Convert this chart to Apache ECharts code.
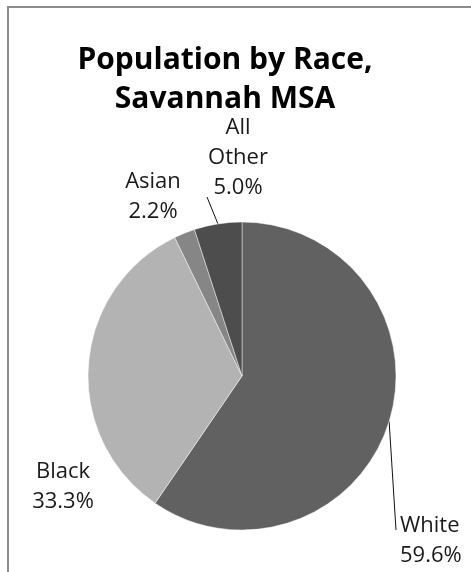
<!DOCTYPE html>
<html>
<head>
<meta charset="utf-8">
<style>
  html, body { margin: 0; padding: 0; background: #fff; overflow: hidden; width: 471px; height: 572px; }
  #frame { position: absolute; left: 7px; top: 6px; width: 470px; height: 572px;
           border-top: 2px solid #8c8c8c; border-left: 2px solid #8c8c8c; }
  #chart { position: absolute; left: 0; top: 0; width: 471px; height: 572px; }
</style>
<script src="https://cdn.jsdelivr.net/npm/echarts@6/dist/echarts.min.js"></script>
</head>
<body>
<div id="frame"></div>
<div id="chart"></div>
<script>
// Population shares by race, Savannah MSA
const categories = ['White', 'Black', 'Asian', 'All Other'];
const shares = [59.6, 33.3, 2.2, 5.0];
const labelText = ['White\n59.6%', 'Black\n33.3%', 'Asian\n2.2%', 'All\nOther\n5.0%'];
const sliceColors = ['#616161', '#b3b3b3', '#868686', '#4d4d4d'];

// where each text block sits, and where its leader line (if any) meets the text
const labelPlace = [
  { x: 400, y: 541, align: 'left', lineEnd: [396, 530] },
  { x: 63, y: 487, align: 'center', lineEnd: null },
  { x: 153, y: 197, align: 'center', lineEnd: null },
  { x: 238, y: 158, align: 'center', lineEnd: [207, 197] }
];

const chart = echarts.init(document.getElementById('chart'), null, { renderer: 'canvas' });

const font = '"Open Sans", "Noto Sans", sans-serif';

chart.setOption({
  animation: false,
  graphic: [{
    type: 'text',
    x: 225,
    y: 41,
    style: {
      text: 'Population by Race,\nSavannah MSA',
      font: 'bold 30px ' + font,
      fill: '#000',
      textAlign: 'center',
      textVerticalAlign: 'top',
      lineHeight: 39
    }
  }],
  series: [{
    type: 'pie',
    center: [242, 376],
    radius: 154,
    startAngle: 90,
    clockwise: true,
    itemStyle: { borderColor: 'rgba(255,255,255,0.45)', borderWidth: 1 },
    label: {
      show: true,
      position: 'outside',
      color: '#1a1a1a',
      fontFamily: font,
      fontSize: 22,
      lineHeight: 30,
      overflow: 'none',
      formatter: p => labelText[p.dataIndex]
    },
    labelLine: { show: true, length: 10, length2: 0, lineStyle: { color: '#111', width: 1 } },
    labelLayout: p => {
      const l = labelPlace[p.dataIndex];
      const out = {
        x: l.x,
        y: l.y,
        align: l.align,
        verticalAlign: 'middle',
        hideOverlap: false,
        moveOverlap: false
      };
      if (l.lineEnd && p.labelLinePoints) {
        out.labelLinePoints = [p.labelLinePoints[0], l.lineEnd, l.lineEnd];
      }
      return out;
    },
    data: categories.map((c, i) => ({
      name: c,
      value: shares[i],
      itemStyle: { color: sliceColors[i] },
      labelLine: { show: !!labelPlace[i].lineEnd }
    }))
  }]
});
</script>
</body>
</html>
